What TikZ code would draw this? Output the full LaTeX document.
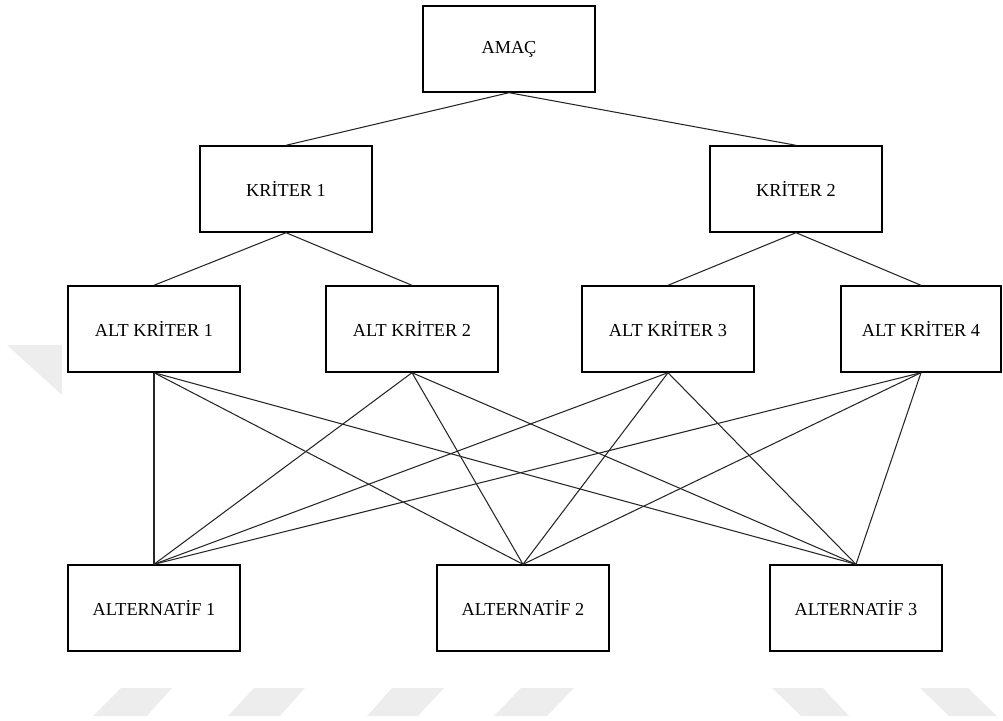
\documentclass[tikz,border=0pt]{standalone}
\usepackage{fontspec}
\setmainfont{Liberation Serif}
\usetikzlibrary{positioning}

\begin{document}
\begin{tikzpicture}[node distance=2cm,on grid,
    kutu/.style={draw,line width=0.8pt,minimum width=3.44cm,minimum height=1.72cm,
        font=\fontsize{10.4}{12}\selectfont,inner sep=2pt},
    baglanti/.style={line width=0.6pt,draw=black!85},
    filigran/.style={fill=black!7,draw=none}]
    \useasboundingbox (-10.18,0.98) rectangle (9.88,-13.42);
    % faint marks in the background
    \fill[filigran] (-10.04,-5.92) -- (-8.94,-5.92) -- (-8.94,-6.92) -- cycle;
    \foreach \bl/\br/\tr/\tl in {-8.32/-7.24/-6.74/-7.76,-5.62/-4.58/-4.08/-5.10,
        -2.84/-1.82/-1.30/-2.34,-0.30/0.76/1.30/0.24}
        \fill[filigran] (\bl,-13.34) -- (\br,-13.34) -- (\tr,-12.78) -- (\tl,-12.78) -- cycle;
    \foreach \tl/\tr/\br/\bl in {5.26/6.28/6.80/5.84,8.22/9.18/9.76/8.80}
        \fill[filigran] (\tl,-12.78) -- (\tr,-12.78) -- (\br,-13.34) -- (\bl,-13.34) -- cycle;
    % hierarchy
    \node[kutu](amac) {AMAÇ};
    \node[kutu](k1) [below left=2.8cm and 4.46cm of amac] {KRİTER 1};
    \node[kutu](k2) [below right=2.8cm and 5.74cm of amac] {KRİTER 2};
    \node[kutu](ak1) [below left=2.8cm and 2.64cm of k1] {ALT KRİTER 1};
    \node[kutu](ak2) [below right=2.8cm and 2.52cm of k1] {ALT KRİTER 2};
    \node[kutu](ak3) [below left=2.8cm and 2.56cm of k2] {ALT KRİTER 3};
    \node[kutu,minimum width=3.2cm](ak4) [below right=2.8cm and 2.5cm of k2] {ALT KRİTER 4};
    \node[kutu](alt1) [below=5.58cm of ak1] {ALTERNATİF 1};
    \node[kutu](alt2) [below right=5.58cm and 2.22cm of ak2] {ALTERNATİF 2};
    \node[kutu](alt3) [below left=5.58cm and 1.3cm of ak4] {ALTERNATİF 3};
    \path[baglanti]
        (amac.south) edge (k1.north)
        (amac.south) edge (k2.north)
        (k1.south) edge (ak1.north)
        (k1.south) edge (ak2.north)
        (k2.south) edge (ak3.north)
        (k2.south) edge (ak4.north);
    \foreach \a in {ak1,ak2,ak3,ak4}
        \foreach \b in {alt1,alt2,alt3}
            \draw[baglanti] (\a.south) -- (\b.north);
\end{tikzpicture}
\end{document}
